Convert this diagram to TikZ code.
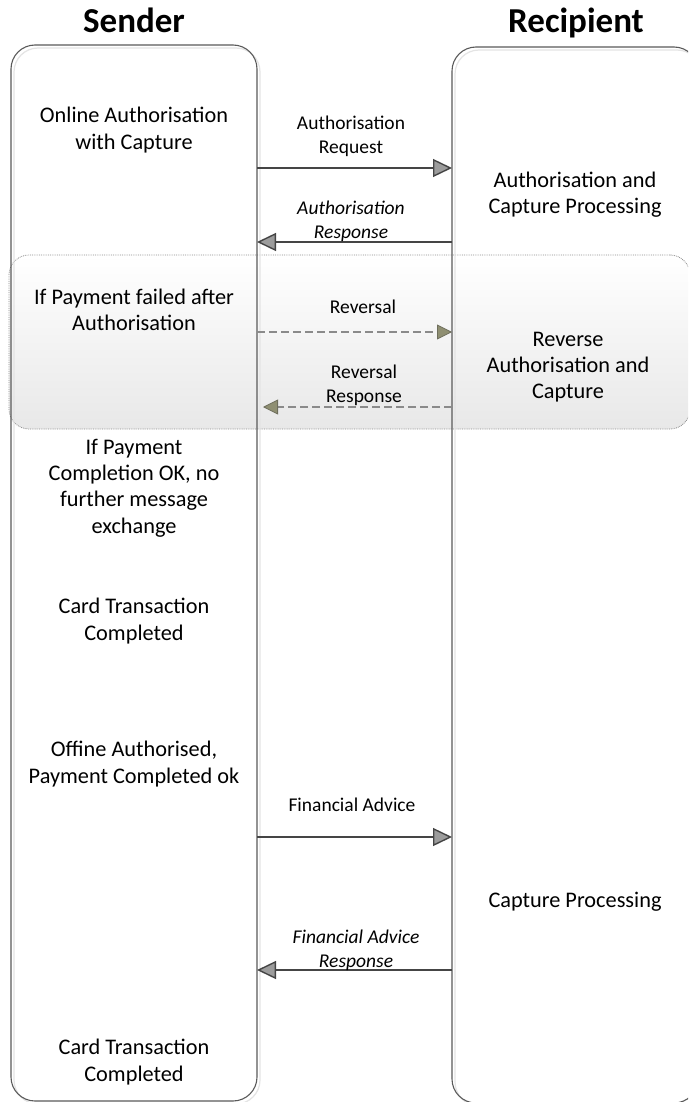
\documentclass[tikz,border=0pt]{standalone}
\usepackage{fontspec}
\setmainfont{Carlito}
\usetikzlibrary{arrows.meta}
\definecolor{lanec}{HTML}{5A5A5A}
\definecolor{shadowc}{HTML}{E4E4E4}
\definecolor{arrowc}{HTML}{454545}
\definecolor{headc}{HTML}{9C9C9C}
\definecolor{dashc}{HTML}{8A8A8A}
\definecolor{revhead}{HTML}{8F8F72}
\definecolor{revline}{HTML}{6E6E5C}
\definecolor{bandline}{HTML}{8C8C8C}
\begin{document}
\begin{tikzpicture}[x=1pt,y=-1pt,
  lanebox/.style={draw=lanec,line width=1.1pt,rounded corners=24pt,minimum width=246pt,minimum height=1056pt,inner sep=0pt},
  laneshadow/.style={draw=shadowc,line width=1.2pt,rounded corners=24pt,minimum width=246pt,minimum height=1056pt,inner sep=0pt},
  bandbox/.style={draw=bandline,line width=0.8pt,densely dotted,rounded corners=20pt,top color=white,bottom color=black!9,minimum width=681pt,minimum height=174pt,inner sep=0pt},
  head/.style={font=\fontsize{35}{40}\selectfont\bfseries,anchor=base,inner sep=0pt},
  body/.style={font=\fontsize{22.3}{26.3}\selectfont,align=center,inner sep=0pt},
  lbl/.style={font=\fontsize{19.5}{23.8}\selectfont,align=center,inner sep=0pt},
  ilbl/.style={lbl,font=\fontsize{19.5}{23.8}\selectfont\itshape},
  msg/.style={draw=arrowc,line width=2.4pt,-{Triangle[length=19pt,width=18pt,fill=headc,color=arrowc,line width=1.4pt]}},
  revmsg/.style={draw=dashc,line width=1.3pt,dash pattern=on 8pt off 4pt,-{Triangle[length=15pt,width=15pt,fill=revhead,color=revline,line width=0.8pt]}}
]
\useasboundingbox (0,0) rectangle (688,1102);
\clip (0,0) rectangle (688,1102);
\fill[white] (0,0) rectangle (688,1102);

% band for failed payment
\node[bandbox] (band) at (349.5,342) {};

% lane shadows and lanes
\node[laneshadow] (sshadow) at (137,576) {};
\node[laneshadow] (rshadow) at (578,578) {};
\node[lanebox] (sender) at (134,573) {};
\node[lanebox] (recip) at (575,575) {};

% headings
\node[head] (hs) at (134,33) {Sender};
\node[head] (hr) at (576,33) {Recipient};

% sender texts
\node[body] (t1) at (134,130) {Online Authorisation\\with Capture};
\node[body] (t2) at (134,310) {If Payment failed after\\Authorisation};
\node[body] (t3) at (134,488) {If Payment\\Completion OK, no\\further message\\exchange};
\node[body] (t4) at (134,621) {Card Transaction\\Completed};
\node[body] (t5) at (134,764) {Offine Authorised,\\Payment Completed ok};
\node[body] (t6) at (134,1062) {Card Transaction\\Completed};

% recipient texts
\node[body] (u1) at (575,195) {Authorisation and\\Capture Processing};
\node[body] (u2) at (568,367) {Reverse\\Authorisation and\\Capture};
\node[body] (u3) at (575,902) {Capture Processing};

% message anchor points
\coordinate (a1s) at (257,168);  \coordinate (a1r) at (452,168);
\coordinate (a2s) at (257,242);  \coordinate (a2r) at (452,242);
\coordinate (a3s) at (257,332);  \coordinate (a3r) at (452,332);
\coordinate (a4s) at (263,407);  \coordinate (a4r) at (452,407);
\coordinate (a5s) at (257,837);  \coordinate (a5r) at (452,837);
\coordinate (a6s) at (257,970);  \coordinate (a6r) at (452,970);

% messages
\draw[msg] (a1s) -- (a1r);
\draw[msg] (a2r) -- (a2s);
\draw[revmsg] (a3s) -- (a3r);
\draw[revmsg] (a4r) -- (a4s);
\draw[msg] (a5s) -- (a5r);
\draw[msg] (a6r) -- (a6s);

% message labels
\node[lbl] (l1) at (351,136) {Authorisation\\Request};
\node[ilbl] (l2) at (351,221) {Authorisation\\Response};
\node[lbl] (l3) at (363,307) {Reversal};
\node[lbl] (l4) at (364,385) {Reversal\\Response};
\node[lbl] (l5) at (352,805) {Financial Advice};
\node[ilbl] (l6) at (356,950) {Financial Advice\\Response};
\end{tikzpicture}
\end{document}
